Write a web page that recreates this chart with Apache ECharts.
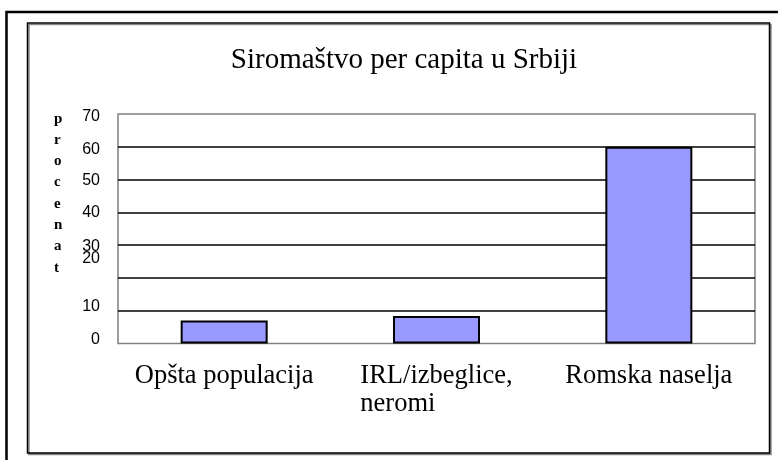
<!DOCTYPE html>
<html>
	<head>
		<meta charset="utf-8" />
		<title>Siromaštvo per capita u Srbiji</title>
		<style>
			html, body {
				width: 100%;
				height: 100%;
				margin: 0;
				padding: 0;
				background: #fff;
			}

			#main {
				width: 778px;
				height: 460px;
			}
		</style>
	</head>
	<body>
		<div id="main"></div>
		<script src="https://cdn.jsdelivr.net/npm/echarts@6/dist/echarts.min.js"></script>
		<script>
			var chartTitle = 'Siromaštvo per capita u Srbiji';
			var axisName = 'procenat';
			var categories = ['Opšta populacija', 'IRL/izbeglice,\nneromi', 'Romska naselja'];
			var values = [7, 8.4, 60];

			// the original labels sit a bit off their lines (20 especially)
			var labelShift = {0: -4, 10: -4, 20: -19, 30: 1, 40: 0, 50: 1, 60: 3, 70: 3};

			var gapStyles = {
				n: { fontFamily: 'Liberation Sans', fontSize: 16, lineHeight: 18, color: '#000' }
			};
			for (var k in labelShift) {
				var h = Math.abs(labelShift[k]) * 2;
				if (h) {
					gapStyles['g' + h] = { fontSize: 1, lineHeight: h, height: h };
				}
			}

			var chart = echarts.init(document.getElementById('main'), null, {
				renderer: 'canvas'
			});

			chart.setOption({
				backgroundColor: '#fff',
				animation: false,
				title: {
					text: chartTitle,
					left: 399,
					textAlign: 'center',
					top: 41,
					textStyle: {
						fontFamily: 'Liberation Serif',
						fontSize: 29,
						fontWeight: 'normal',
						color: '#000'
					}
				},
				graphic: [{
					type: 'rect',
					shape: { x: 6.5, y: 12, width: 800, height: 480 },
					style: { fill: 'none', stroke: '#000', lineWidth: 2.5 },
					z: -1
				}, {
					type: 'rect',
					shape: { x: 27.5, y: 23, width: 742, height: 430 },
					style: {
						fill: '#fff', stroke: '#000', lineWidth: 1.5,
						shadowColor: '#888', shadowOffsetX: 1.5, shadowOffsetY: 1.5, shadowBlur: 0
					},
					z: -1
				}, {
					// y axis title, one letter per line
					type: 'text',
					left: 54,
					top: 108,
					style: {
						text: axisName.split('').join('\n'),
						fontFamily: 'Liberation Serif',
						fontWeight: 'bold',
						fontSize: 15,
						lineHeight: 21.3,
						fill: '#000',
						align: 'center'
					}
				}],
				grid: {
					left: 118,
					right: 23,
					top: 114,
					bottom: 116.5,
					outerBoundsMode: 'none',
					containLabel: false,
					show: true,
					borderColor: '#808080',
					borderWidth: 1.5,
					backgroundColor: 'transparent'
				},
				xAxis: {
					type: 'category',
					data: categories,
					axisLine: { show: false },
					axisTick: { show: false },
					axisLabel: {
						interval: 0,
						margin: 19,
						formatter: function (v) {
							return v.split('\n').map(function (l) {
								return '{c|' + l + '}';
							}).join('\n');
						},
						rich: {
							c: {
								fontFamily: 'Liberation Serif',
								fontSize: 26.5,
								lineHeight: 28,
								color: '#000',
								align: 'left'
							}
						}
					}
				},
				yAxis: {
					type: 'value',
					min: 0,
					max: 70,
					interval: 10,
					axisLine: { show: false },
					axisTick: { show: false },
					splitLine: {
						show: true,
						showMinLine: false,
						showMaxLine: false,
						lineStyle: { color: '#000', width: 1.5 }
					},
					axisLabel: {
						margin: 18,
						formatter: function (v) {
							var s = labelShift[v] || 0;
							if (s < 0) {
								return '{n|' + v + '}\n{g' + (-s * 2) + '| }';
							}
							if (s > 0) {
								return '{g' + (s * 2) + '| }\n{n|' + v + '}';
							}
							return '{n|' + v + '}';
						},
						rich: gapStyles
					}
				},
				series: [{
					type: 'bar',
					data: values,
					barWidth: 87,
					itemStyle: {
						color: '#9999FF',
						borderColor: '#000',
						borderWidth: 2
					}
				}]
			});
		</script>
	</body>
</html>
